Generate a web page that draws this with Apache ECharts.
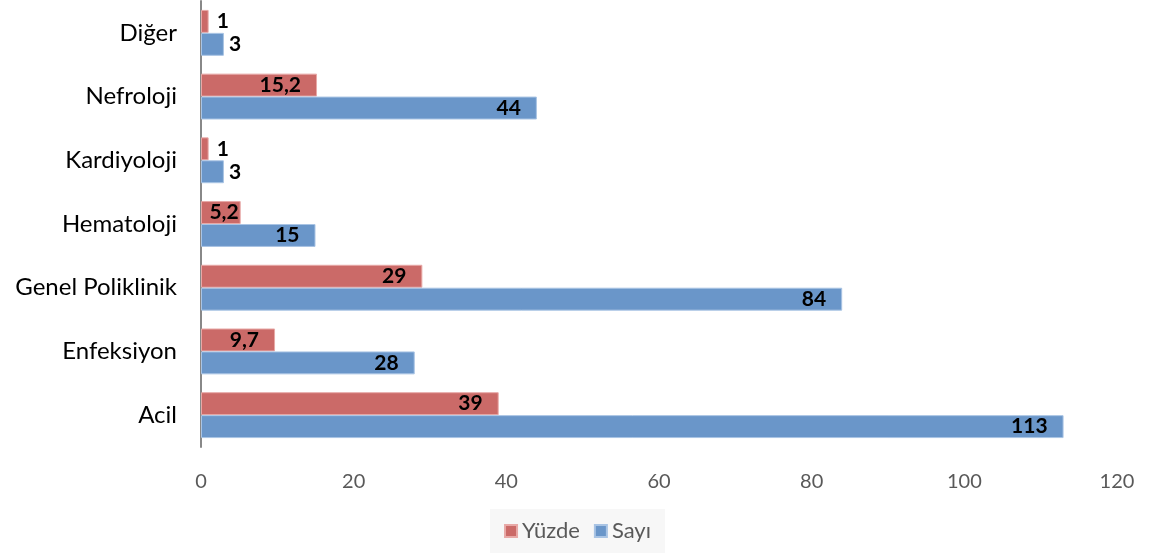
<!DOCTYPE html>
<html>
<head>
<meta charset="utf-8">
<script src="https://cdn.jsdelivr.net/npm/echarts@6/dist/echarts.min.js"></script>
<style>
  html, body { margin: 0; padding: 0; background: #fff; }
  #chart { width: 1155px; height: 554px; }
</style>
</head>
<body>
<div id="chart"></div>
<script>
// Departments, listed bottom to top on the category axis
const categories = ['Acil', 'Enfeksiyon', 'Genel Poliklinik', 'Hematoloji', 'Kardiyoloji', 'Nefroloji', 'Diğer'];
const yuzde = [39, 9.7, 29, 5.2, 1, 15.2, 1];
const sayi = [113, 28, 84, 15, 3, 44, 3];
const seriesNames = ['Yüzde', 'Sayı'];

const FONT = 'Lato, "Open Sans", sans-serif';
const fmt = v => String(v).replace('.', ',');

// Tiny bars get their label beside the bar; short ones hug the bar end
function items(values, sideOffset) {
  return values.map(v => {
    if (v <= 4) {
      return { value: v, label: { position: 'right', distance: 0, offset: [sideOffset, 0] } };
    }
    if (v < 8) {
      return { value: v, label: { distance: 2 } };
    }
    return { value: v };
  });
}

const labelBase = {
  show: true,
  position: 'insideRight',
  distance: 16,
  color: '#000',
  fontFamily: FONT,
  fontWeight: 'bold',
  fontSize: 21,
  formatter: p => fmt(p.value)
};

const chart = echarts.init(document.getElementById('chart'));
chart.setOption({
  animation: false,
  textStyle: { fontFamily: FONT },
  grid: { left: 201, right: 38, top: 1, bottom: 107, containLabel: false },
  legend: {
    bottom: 1,
    left: 'center',
    data: seriesNames.slice(),
    itemWidth: 12,
    itemHeight: 12,
    itemGap: 14,
    icon: 'rect',
    padding: [11, 14, 11, 14],
    backgroundColor: '#f7f7f7',
    textStyle: { color: '#595959', fontSize: 22, fontFamily: FONT }
  },
  xAxis: {
    type: 'value',
    min: 0,
    max: 120,
    interval: 20,
    axisLine: { show: false },
    axisTick: { show: false },
    splitLine: { show: false },
    axisLabel: { color: '#595959', fontSize: 20, margin: 25, fontFamily: FONT }
  },
  yAxis: {
    type: 'category',
    data: categories,
    axisLine: { show: true, lineStyle: { color: '#888', width: 2 } },
    axisTick: { show: false },
    axisLabel: { color: '#000', fontSize: 24, margin: 24, fontFamily: FONT }
  },
  series: [
    {
      name: seriesNames[0],
      type: 'bar',
      data: items(yuzde, 8),
      barGap: '0%',
      barCategoryGap: '28%',
      itemStyle: { color: '#cb6a68', borderColor: '#e8a9a7', borderWidth: 1 },
      label: labelBase
    },
    {
      name: seriesNames[1],
      type: 'bar',
      data: items(sayi, 5),
      itemStyle: { color: '#6a96c9', borderColor: '#a9c4e4', borderWidth: 1 },
      label: labelBase
    }
  ]
});
</script>
</body>
</html>
